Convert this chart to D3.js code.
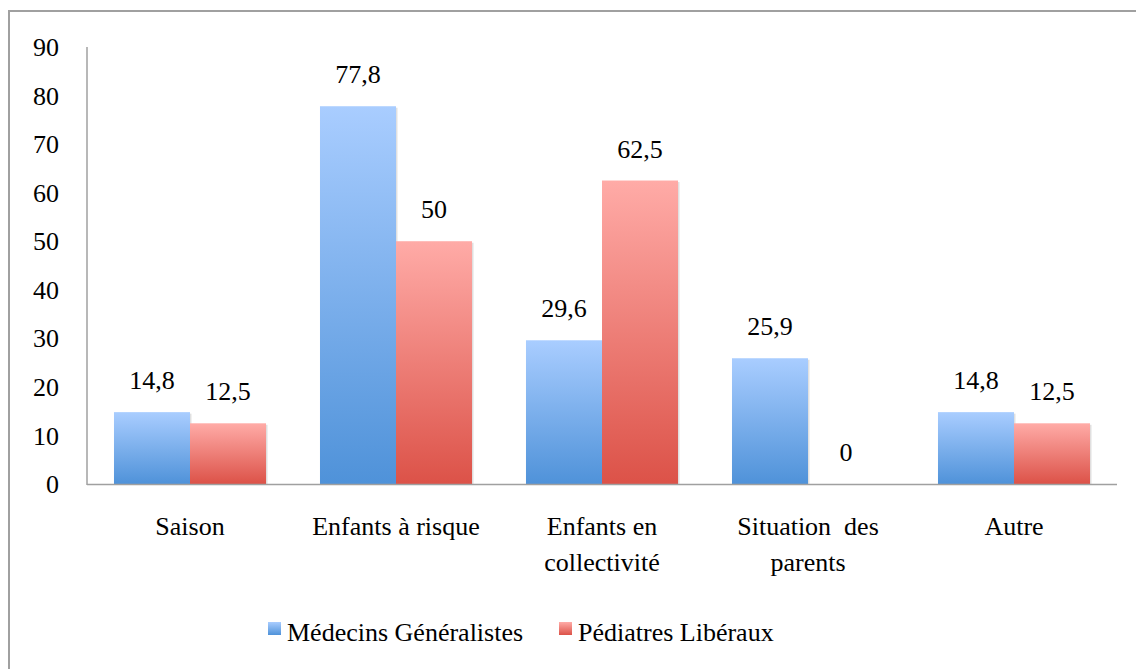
<!DOCTYPE html>
<html><head><meta charset="utf-8">
<script src="https://cdn.jsdelivr.net/npm/d3@7"></script>
<style>body{margin:0;background:#fff}</style>
</head><body>
<script>
const categories = [["Saison"],["Enfants à risque"],["Enfants en","collectivité"],["Situation  des","parents"],["Autre"]];
const seriesNames = ["Médecins Généralistes","Pédiatres Libéraux"];
const generalistes = [14.8,77.8,29.6,25.9,14.8];
const pediatres = [12.5,50,62.5,0,12.5];
const yTicks = [0,10,20,30,40,50,60,70,80,90];

const W=1136,H=669;
const FONT="Liberation Serif";
const svg=d3.select("body").append("svg").attr("width",W).attr("height",H)
  .style("font-family",FONT).attr("font-family",FONT);
const defs=svg.append("defs");
const grads=[["gB","#a9cdff","#4f92d9"],["gR","#ffaba7","#dc5248"]];
grads.forEach(([id,a,b])=>{
  const g=defs.append("linearGradient").attr("id",id).attr("x1",0).attr("y1",0).attr("x2",0).attr("y2",1);
  g.append("stop").attr("offset","0%").attr("stop-color",a);
  g.append("stop").attr("offset","100%").attr("stop-color",b);
});

svg.append("rect").attr("x",9).attr("y",11).attr("width",1140).attr("height",680)
  .attr("fill","none").attr("stroke","#a0a0a0").attr("stroke-width",2);

const x0=87,x1=1117,yb=484,yt=47;
const y=d3.scaleLinear().domain([0,90]).range([yb,yt]);
const x=d3.scaleBand().domain(d3.range(categories.length)).range([x0,x1]).paddingInner(0).paddingOuter(0);
const xs=d3.scaleBand().domain([0,1]).range([0,x.bandwidth()]).paddingOuter(0.355).paddingInner(0);

const fs=26;
// y tick labels
svg.append("g").selectAll("text").data(yTicks).join("text")
  .attr("x",59).attr("y",d=>y(d)).attr("dy","0.35em").attr("text-anchor","end")
  .style("font-family",FONT).attr("font-size",fs).attr("fill","#000").text(d=>d);

const series=[generalistes,pediatres];
series.forEach((vals,si)=>{
  const g=svg.append("g");
  // soft shadow
  g.selectAll("rect.sh").data(vals).join("rect").attr("class","sh")
    .attr("x",(d,i)=>x(i)+xs(si)+1.5).attr("width",xs.bandwidth())
    .attr("y",d=>y(d)+1.5).attr("height",d=>Math.max(0,yb-y(d)-1.5))
    .attr("fill","#000").attr("opacity",d=>d>0?0.12:0);
  g.selectAll("rect.bar").data(vals).join("rect").attr("class","bar")
    .attr("x",(d,i)=>x(i)+xs(si)).attr("width",xs.bandwidth())
    .attr("y",d=>y(d)).attr("height",d=>yb-y(d))
    .attr("fill",`url(#${si?"gR":"gB"})`);
  g.selectAll("text").data(vals).join("text")
    .attr("x",(d,i)=>x(i)+xs(si)+xs.bandwidth()/2).attr("y",d=>y(d)-23)
    .attr("text-anchor","middle").style("font-family",FONT).attr("font-size",fs).attr("fill","#000")
    .text(d=>String(d).replace(".",","));
});

// axes lines
svg.append("line").attr("x1",x0).attr("x2",x0).attr("y1",yt).attr("y2",yb+1).attr("stroke","#a0a0a0").attr("stroke-width",1.5);
svg.append("line").attr("x1",x0).attr("x2",x1).attr("y1",yb+0.5).attr("y2",yb+0.5).attr("stroke","#a0a0a0").attr("stroke-width",1.5);

// category labels
categories.forEach((lines,i)=>{
  lines.forEach((l,j)=>{
    svg.append("text").attr("x",x(i)+x.bandwidth()/2).attr("y",535+j*36)
      .attr("text-anchor","middle").style("font-family",FONT).attr("font-size",fs)
      .attr("xml:space","preserve").text(l);
  });
});

// legend
const leg=[[268,"gB"],[559,"gR"]];
leg.forEach(([lx,gid],i)=>{
  svg.append("rect").attr("x",lx).attr("y",622).attr("width",13).attr("height",13).attr("fill",`url(#${gid})`);
  svg.append("text").attr("x",lx+19).attr("y",641).style("font-family",FONT).attr("font-size",fs).text(seriesNames[i]);
});
</script>
</body></html>
